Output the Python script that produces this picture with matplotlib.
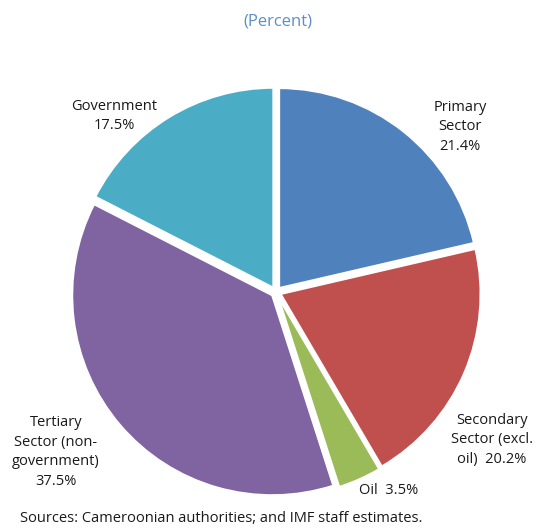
import matplotlib.pyplot as plt

# GDP composition shares, clockwise from 12 o'clock
sectors = ['Primary\nSector\n21.4%', 'Secondary\nSector (excl.\noil)  20.2%', 'Oil  3.5%',
           'Tertiary\nSector (non-\ngovernment)\n37.5%', 'Government\n17.5%']
shares = [21.4, 20.2, 3.5, 37.5, 17.5]
colors = ['#4F81BD', '#C0504D', '#9BBB59', '#8064A2', '#4BACC6']

W, H = 536, 529
fig = plt.figure(figsize=(W / 100, H / 100), dpi=100)
plt.rcParams['font.family'] = ['Open Sans', 'DejaVu Sans']

# pie centred at (276, 292) px, 200 px per unit radius
cx, cy, scale = 276, 292, 200
half = 1.1 * scale
ax = fig.add_axes([(cx - half) / W, (H - cy - half) / H, 2 * half / W, 2 * half / H])
ax.pie(shares, colors=colors, startangle=90, counterclock=False,
       explode=[0.025] * len(shares),
       wedgeprops=dict(edgecolor='white', linewidth=1.5))
ax.set_xlim(-1.1, 1.1)
ax.set_ylim(-1.1, 1.1)
ax.set_aspect('equal')
ax.axis('off')

def px_text(x, y, s, **kw):
    fig.text(x / W, 1 - y / H, s, **kw)

lbl = dict(fontsize=10.5, color='#1a1a1a', ha='center', va='center', linespacing=1.45)
px_text(460, 127, sectors[0], **lbl)
px_text(492, 440, sectors[1], **lbl)
px_text(389, 491, sectors[2], **lbl)
px_text(56, 452, sectors[3], **lbl)
px_text(114, 116, sectors[4], **lbl)

px_text(278, 22, '(Percent)', fontsize=12, color='#5B8FC6', ha='center', va='center')
px_text(20, 519, 'Sources: Cameroonian authorities; and IMF staff estimates.',
        fontsize=10.5, color='#1a1a1a', ha='left', va='center')

fig.savefig('out.png', dpi=100)
